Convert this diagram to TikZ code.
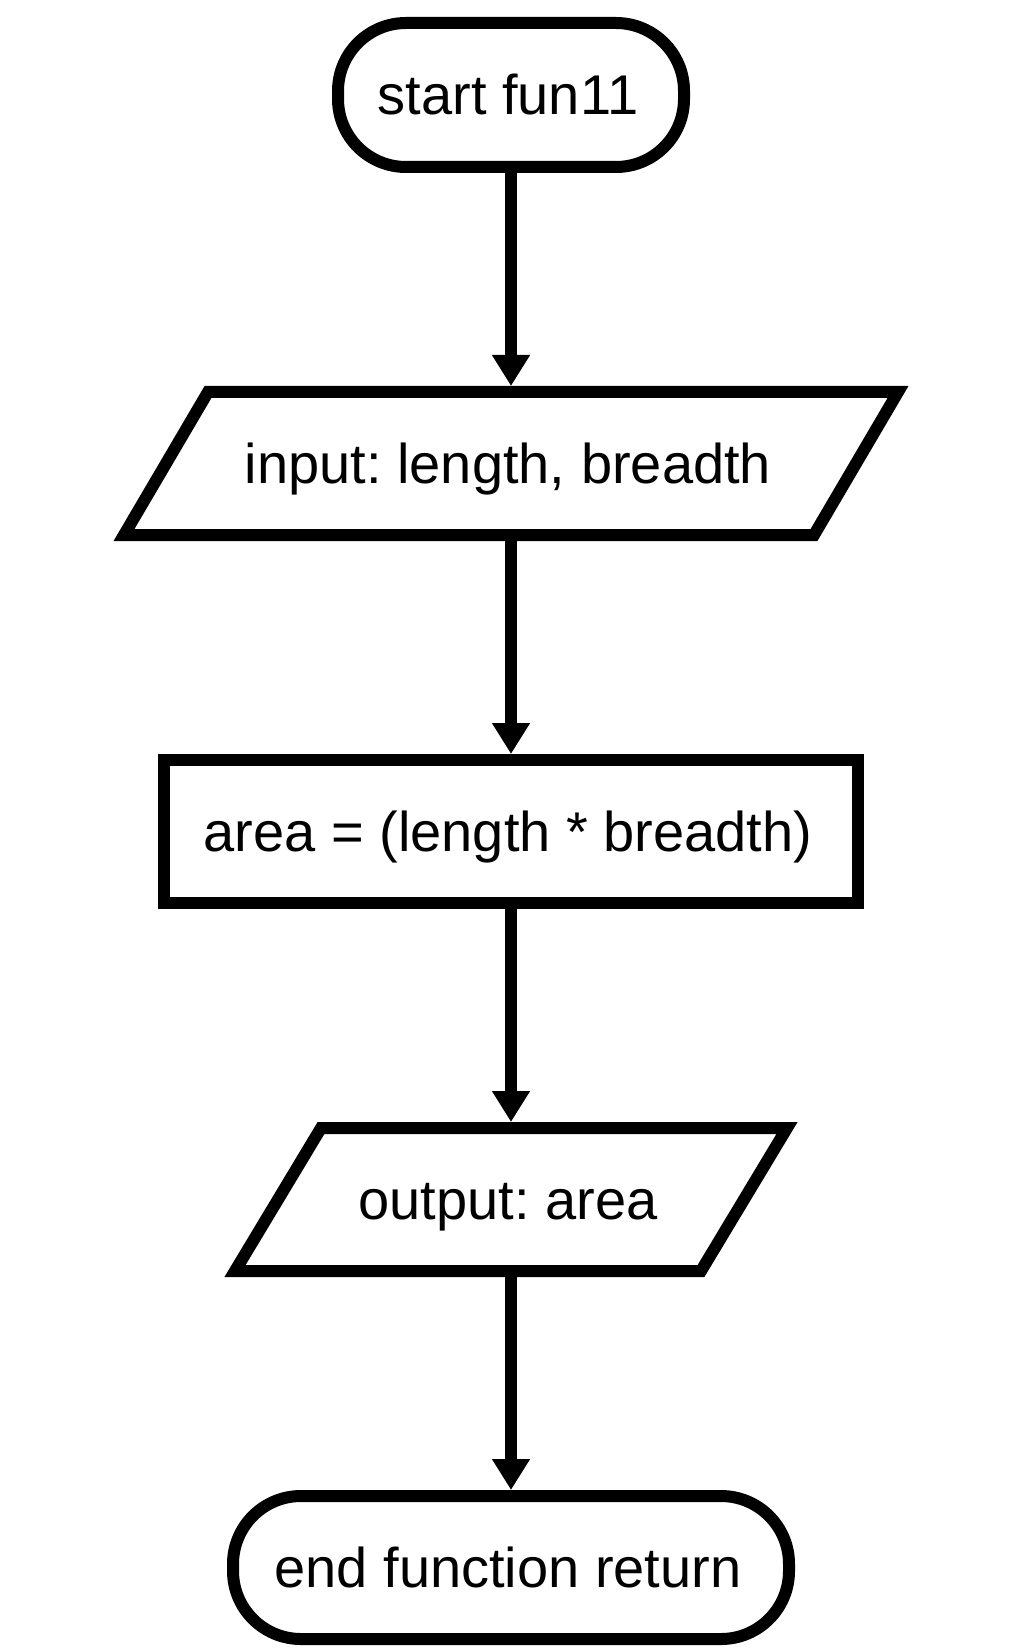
\documentclass[tikz,border=0pt]{standalone}
\usepackage{fontspec}
\setmainfont{Liberation Sans}
\usetikzlibrary{arrows.meta}
\frenchspacing
\newcommand{\lbl}[1]{#1\kern3pt}
\tikzset{
  base/.style={line width=6pt, inner sep=0pt, outer sep=3pt, text height=20pt, text depth=0pt,
    font=\fontsize{28pt}{34pt}\selectfont},
  term/.style={base, draw, rounded corners=34pt},
  procbox/.style={base, draw},
  iobox/.style={base, draw=none},
  shapeline/.style={line width=6pt, line join=miter},
  conn/.style={line width=6pt, -{Triangle[length=15.5pt,width=18pt]}}
}
\begin{document}
\begin{tikzpicture}[x=0.5pt,y=-0.5pt]
\useasboundingbox[fill=white] (0,0) rectangle (1009,1652);
\node[term, minimum width=173pt, minimum height=72pt] (s) at (511,95) {\lbl{start fun11}};
\node[iobox, minimum width=387pt, minimum height=71.5pt] (in) at (511,463.5) {\lbl{input: length, breadth}};
\draw[shapeline] (in.center) ++(-303,-71.5) -- ++(690,0) -- ++(-84,143) -- ++(-690,0) -- cycle;
\node[procbox, minimum width=347pt, minimum height=71.5pt] (p) at (511,831.5) {\lbl{area = (length * breadth)}};
\node[iobox, minimum width=276pt, minimum height=71.5pt] (out) at (511,1199.5) {\lbl{output: area}};
\draw[shapeline] (out.center) ++(-190,-71.5) -- ++(466,0) -- ++(-86,143) -- ++(-466,0) -- cycle;
\node[term, minimum width=278pt, minimum height=71.5pt] (e) at (511,1567.5) {\lbl{end function return}};
\draw[conn] (s) -- (in);
\draw[conn] (in) -- (p);
\draw[conn] (p) -- (out);
\draw[conn] (out) -- (e);
\end{tikzpicture}
\end{document}
